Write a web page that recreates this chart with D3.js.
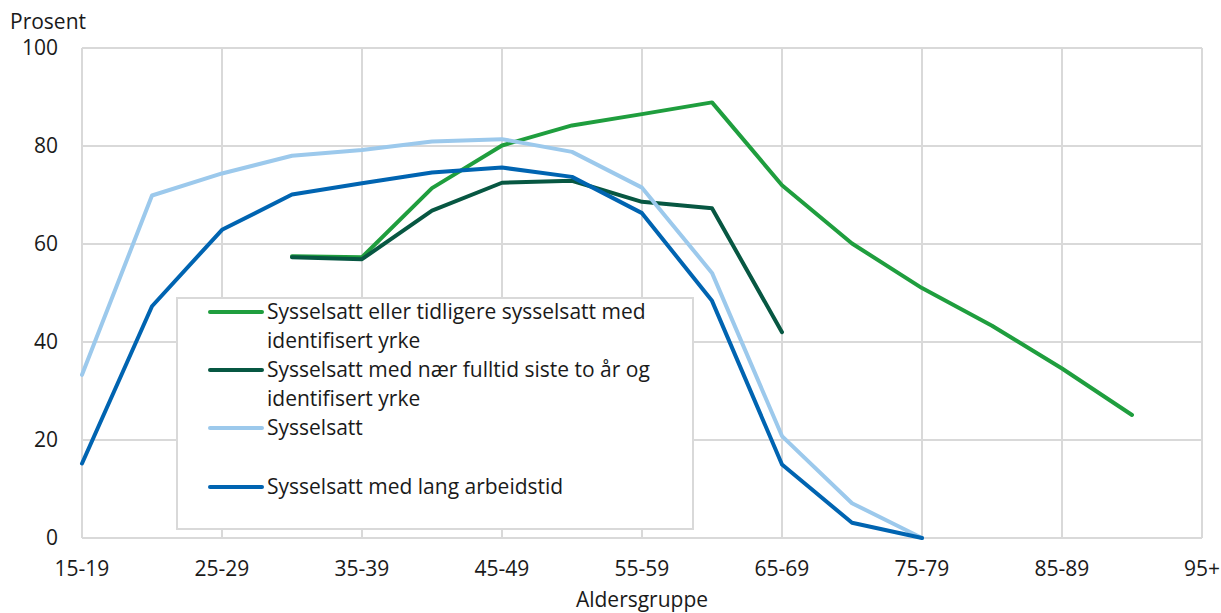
<!DOCTYPE html>
<html>
<head>
  <meta charset="utf-8">
  <title>Sysselsatte etter aldersgruppe</title>
  <script src="https://cdnjs.cloudflare.com/ajax/libs/d3/7.8.5/d3.min.js"></script>
  <style>
    body {
      margin: 0;
      background: #fff;
      font-family: "Open Sans", Arial, sans-serif;
    }
    .grid line {
      stroke: #d9d9d9;
      stroke-width: 2px;
    }
    .tick-label {
      font-size: 21px;
      fill: #1a1a1a;
    }
    .legend-text {
      font-size: 21px;
      fill: #1a1a1a;
    }
  </style>
</head>
<body>
  <div id="chart"></div>

  <script>
    // Data
    const ageGroups = ["15-19", "20-24", "25-29", "30-34", "35-39", "40-44", "45-49", "50-54",
      "55-59", "60-64", "65-69", "70-74", "75-79", "80-84", "85-89", "90-94", "95+"];
    const yTicks = [0, 20, 40, 60, 80, 100];

    const seriesNames = [
      "Sysselsatt eller tidligere sysselsatt med|identifisert yrke",
      "Sysselsatt med nær fulltid siste to år og|identifisert yrke",
      "Sysselsatt",
      "Sysselsatt med lang arbeidstid"
    ];
    const seriesColors = ["#1f9e3e", "#075742", "#9cc9ec", "#0064b1"];

    const tidligereSysselsatt = [null, null, null, 57.5, 57.3, 71.4, 80.1, 84.2, 86.5, 88.9, 72.0, 60.1, 51.0, 43.3, 34.6, 25.1, null];
    const naerFulltid = [null, null, null, 57.3, 56.9, 66.8, 72.5, 72.9, 68.6, 67.3, 42.0, null, null, null, null, null, null];
    const sysselsatt = [33.3, 69.9, 74.4, 78.0, 79.2, 80.9, 81.4, 78.8, 71.5, 54.1, 20.8, 7.1, 0, null, null, null, null];
    const langArbeidstid = [15.2, 47.3, 62.9, 70.1, 72.4, 74.6, 75.6, 73.7, 66.3, 48.4, 15.0, 3.1, 0, null, null, null, null];

    const allSeries = [tidligereSysselsatt, naerFulltid, sysselsatt, langArbeidstid];

    // Layout
    const width = 1221;
    const height = 613;
    const margin = { top: 48, right: 19, bottom: 75, left: 82 };

    const svg = d3.select("#chart")
      .append("svg")
      .attr("width", width)
      .attr("height", height);

    const x = d3.scalePoint()
      .domain(ageGroups)
      .range([margin.left, width - margin.right]);

    const y = d3.scaleLinear()
      .domain([0, 100])
      .range([height - margin.bottom, margin.top]);

    const labeled = ageGroups.filter((d, i) => i % 2 === 0);

    // Gridlines
    const grid = svg.append("g").attr("class", "grid");
    grid.selectAll("line.h")
      .data(yTicks)
      .enter().append("line")
      .attr("class", "h")
      .attr("x1", margin.left)
      .attr("x2", width - margin.right)
      .attr("y1", d => y(d))
      .attr("y2", d => y(d));
    grid.selectAll("line.v")
      .data(labeled)
      .enter().append("line")
      .attr("class", "v")
      .attr("x1", d => x(d))
      .attr("x2", d => x(d))
      .attr("y1", y(0))
      .attr("y2", y(100));

    // Axes labels
    svg.append("g")
      .selectAll("text")
      .data(yTicks)
      .enter().append("text")
      .attr("class", "tick-label")
      .attr("x", margin.left - 24)
      .attr("y", d => y(d))
      .attr("dy", "0.35em")
      .attr("text-anchor", "end")
      .text(d => d);

    svg.append("g")
      .selectAll("text")
      .data(labeled)
      .enter().append("text")
      .attr("class", "tick-label")
      .attr("x", d => x(d))
      .attr("y", 576)
      .attr("text-anchor", "middle")
      .text(d => d);

    svg.append("text")
      .attr("class", "tick-label")
      .attr("x", 10)
      .attr("y", 29)
      .text("Prosent");

    svg.append("text")
      .attr("class", "tick-label")
      .attr("x", (margin.left + width - margin.right) / 2)
      .attr("y", 607)
      .attr("text-anchor", "middle")
      .text("Aldersgruppe");

    // Lines
    const line = d3.line()
      .defined(d => d != null)
      .x((d, i) => x(ageGroups[i]))
      .y(d => y(d));

    svg.append("g")
      .selectAll("path")
      .data(allSeries)
      .enter().append("path")
      .attr("fill", "none")
      .attr("stroke", (d, i) => seriesColors[i])
      .attr("stroke-width", 4)
      .attr("stroke-linejoin", "round")
      .attr("stroke-linecap", "round")
      .attr("d", line);

    // Legend
    const legend = svg.append("g");
    legend.append("rect")
      .attr("x", 177)
      .attr("y", 298)
      .attr("width", 516)
      .attr("height", 231)
      .attr("fill", "#fff")
      .attr("stroke", "#d9d9d9")
      .attr("stroke-width", 2);

    const rowY = [312, 370, 428, 487];
    seriesNames.forEach((name, i) => {
      const g = legend.append("g");
      g.append("line")
        .attr("x1", 210)
        .attr("x2", 262)
        .attr("y1", rowY[i])
        .attr("y2", rowY[i])
        .attr("stroke", seriesColors[i])
        .attr("stroke-width", 4)
        .attr("stroke-linecap", "round");
      name.split("|").forEach((part, j) => {
        g.append("text")
          .attr("class", "legend-text")
          .attr("x", 267)
          .attr("y", rowY[i] + j * 29)
          .attr("dy", "0.35em")
          .text(part);
      });
    });
  </script>
</body>
</html>
